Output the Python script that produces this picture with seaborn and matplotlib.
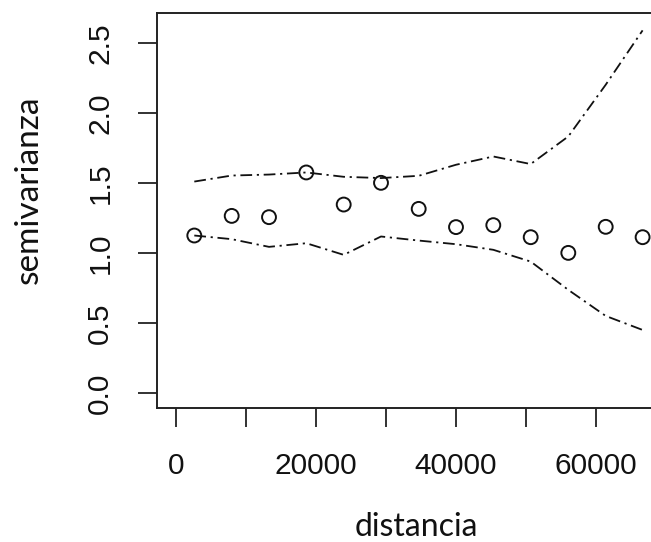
import matplotlib
matplotlib.use("Agg")
import matplotlib.pyplot as plt
import seaborn as sns
import pandas as pd

# Data
distancia = [2657, 8000, 13329, 18657, 24000, 29329, 34714, 40043, 45371, 50714, 56086, 61429, 66700]
semivarianza = [1.126, 1.266, 1.257, 1.576, 1.347, 1.502, 1.316, 1.186, 1.200, 1.114, 1.002, 1.188, 1.114]
env_sup = [1.511, 1.554, 1.561, 1.576, 1.545, 1.536, 1.552, 1.631, 1.690, 1.636, 1.833, 2.202, 2.590]
env_inf = [1.126, 1.100, 1.045, 1.071, 0.988, 1.119, 1.090, 1.064, 1.024, 0.940, 0.738, 0.552, 0.452]
x_ticks = [0, 10000, 20000, 30000, 40000, 50000, 60000]
x_ticklabels = ["0", "", "20000", "", "40000", "", "60000"]
y_ticks = [0.0, 0.5, 1.0, 1.5, 2.0, 2.5]
y_ticklabels = ["0.0", "0.5", "1.0", "1.5", "2.0", "2.5"]

df = pd.DataFrame({"distancia": distancia, "semivarianza": semivarianza,
                   "sup": env_sup, "inf": env_inf})

sns.set_theme(style="white")
plt.rcParams["font.family"] = ["Liberation Sans", "DejaVu Sans"]

W, H = 651, 542
fig = plt.figure(figsize=(W / 100, H / 100), dpi=100)
left, right, top, bottom = 157, 662, 13, 408
ax = fig.add_axes([left / W, 1 - bottom / H, (right - left) / W, (bottom - top) / H])

dash = (0, (6.5, 2.6, 1.2, 2.6))
sns.lineplot(data=df, x="distancia", y="sup", ax=ax, color="#111111", lw=1.3,
             linestyle=dash, estimator=None, sort=False)
sns.lineplot(data=df, x="distancia", y="inf", ax=ax, color="#111111", lw=1.3,
             linestyle=dash, estimator=None, sort=False)
sns.scatterplot(data=df, x="distancia", y="semivarianza", ax=ax, marker="o",
                s=100, facecolor="none", edgecolor="#111111", linewidth=1.4, zorder=3)

ax.set_xlim(-2671, 69471)
ax.set_ylim(-0.105, 2.714)
ax.set_xticks(x_ticks)
ax.set_xticklabels(x_ticklabels)
ax.set_yticks(y_ticks)
ax.set_yticklabels(y_ticklabels, rotation=90, va="center")
ax.tick_params(axis="both", which="major", bottom=True, left=True, top=False, right=False,
               direction="out", length=13.7, width=1.3, color="#222222",
               labelsize=21.5, labelcolor="#111111")
ax.tick_params(axis="x", pad=18)
ax.tick_params(axis="y", pad=17)
ax.set_xlabel("")
ax.set_ylabel("")
for sp in ax.spines.values():
    sp.set_color("#222222")
    sp.set_linewidth(1.4)
    sp.set_visible(True)

fig.text(416 / W, 1 - 536 / H, "distancia", ha="center", va="baseline",
         fontsize=23, family=["Lato", "DejaVu Sans"], color="#111111")
fig.text(29 / W, 1 - 190 / H, "semivarianza", ha="center", va="center",
         rotation=90, fontsize=24, family=["Lato", "DejaVu Sans"], color="#111111")

fig.savefig("out.png", dpi=100)
